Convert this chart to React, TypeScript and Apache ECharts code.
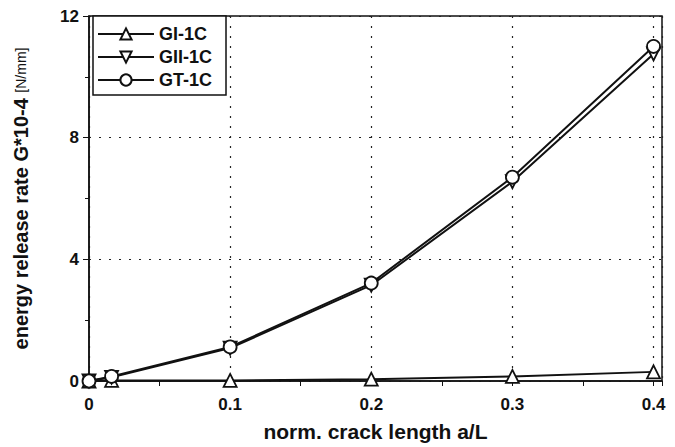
import React, { useEffect, useRef } from "react";
import * as echarts from "echarts";

const xValues = [0, 0.016, 0.1, 0.2, 0.3, 0.4];
const giValues = [0, 0.02, 0.02, 0.06, 0.15, 0.3];
const giiValues = [0, 0.12, 1.08, 3.15, 6.55, 10.75];
const gtValues = [0, 0.15, 1.12, 3.22, 6.7, 11.0];
const seriesNames = ["GI-1C", "GII-1C", "GT-1C"];

const downTri = "path://M0,0 L10,0 L5,9 Z";

export default function App() {
  const ref = useRef<HTMLDivElement>(null);
  useEffect(() => {
    if (!ref.current) return;
    const chart = echarts.init(ref.current, undefined, { renderer: "svg" });
    const font = "'Liberation Sans', Arial, sans-serif";
    const mk = (vals: number[]) => xValues.map((x, i) => [x, vals[i]]);
    const common = {
      type: "line",
      symbolSize: 13,
      lineStyle: { color: "#111", width: 2 },
      itemStyle: { color: "#fff", borderColor: "#111", borderWidth: 1.8 },
      clip: false,
      z: 3,
    };
    chart.setOption({
      animation: false,
      backgroundColor: "#fff",
      grid: { left: 89, right: 13, top: 16, bottom: 64, show: true, borderColor: "#111", borderWidth: 1.5, backgroundColor: "transparent" },
      legend: {
        left: 93,
        top: 16,
        orient: "vertical",
        itemWidth: 56,
        itemHeight: 14,
        itemGap: 5,
        padding: [9, 14, 6, 4],
        borderColor: "#111",
        borderWidth: 1.5,
        backgroundColor: "#fff",
        textStyle: { fontFamily: font, fontWeight: "bold", fontSize: 18, color: "#111", lineHeight: 14 },
        data: seriesNames,
      },
      xAxis: {
        type: "value",
        min: 0,
        max: 0.406,
        interval: 0.1,
        name: "norm. crack length a/L",
        nameLocation: "middle",
        nameGap: 40,
        nameTextStyle: { fontFamily: font, fontWeight: "bold", fontSize: 21, color: "#111" },
        axisLine: { onZero: false, lineStyle: { color: "#111", width: 1.5 } },
        axisTick: { show: true, length: 5, lineStyle: { color: "#111" } },
        minorTick: { show: true, splitNumber: 2, length: 5, lineStyle: { color: "#111" } },
        axisLabel: {
          fontFamily: font, fontWeight: "bold", fontSize: 17, color: "#111", margin: 15,
          formatter: (v: number) => (v > 0.405 ? "" : v === 0 ? "0" : v.toFixed(1)),
        },
        splitLine: { show: true, lineStyle: { color: "#222", type: [2, 8], width: 1.2 } },
      },
      yAxis: {
        type: "value",
        min: 0,
        max: 12,
        interval: 4,
        name: "{a|energy release rate G*10-4 }{b|[N/mm]}",
        nameLocation: "middle",
        nameGap: 58,
        nameTextStyle: {
          rich: {
            a: { fontFamily: font, fontWeight: "bold", fontSize: 20, color: "#111" },
            b: { fontFamily: font, fontSize: 14, color: "#111" },
          },
        },
        axisLine: { show: true, lineStyle: { color: "#111", width: 1.5 } },
        axisTick: { show: true, length: 6, lineStyle: { color: "#111" } },
        minorTick: { show: true, splitNumber: 2, length: 4, lineStyle: { color: "#111" } },
        axisLabel: { fontFamily: font, fontWeight: "bold", fontSize: 17, color: "#111", margin: 10 },
        splitLine: { show: true, lineStyle: { color: "#222", type: [2, 8], width: 1.2 } },
      },
      series: [
        { ...common, name: seriesNames[0], symbol: "triangle", data: mk(giValues) },
        { ...common, name: seriesNames[1], symbol: downTri, data: mk(giiValues) },
        { ...common, name: seriesNames[2], symbol: "circle", data: mk(gtValues) },
      ],
    });
    return () => chart.dispose();
  }, []);
  return <div ref={ref} style={{ width: 675, height: 447, position: "absolute", left: 0, top: 0 }} />;
}
